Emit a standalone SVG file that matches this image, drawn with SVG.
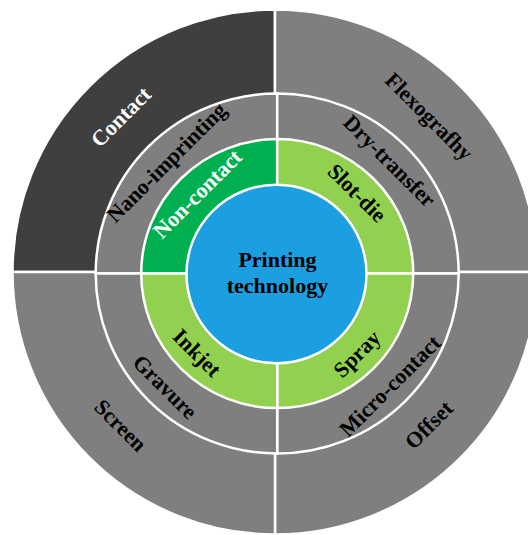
<svg xmlns="http://www.w3.org/2000/svg" width="528" height="535" viewBox="0 0 528 535">
  <style>
    .seg { stroke: #ffffff; stroke-width: 2.5; stroke-linejoin: miter; }
    .dark { fill: #3f3f3f; }
    .grey { fill: #7f7f7f; }
    .dgreen { fill: #00b050; }
    .lgreen { fill: #92d050; }
    .core { fill: #1b9fe0; }
    text { font-family: "Liberation Serif", "Times New Roman", serif; font-weight: bold; font-size: 22px; text-anchor: middle; fill: #000000; }
    .light { fill: #ffffff; }
  </style>

  <!-- outer ring: four quadrants around (275,272) -->
  <g id="outer-ring">
    <g id="contact">
      <path class="seg dark" d="M275,272 L12.5,272 A262.5,262.5 0 0 1 275,9.5 Z"/>
      <text class="light" transform="translate(121,117) rotate(-45)" dy=".33em">Contact</text>
    </g>
    <g id="flexografhy">
      <path class="seg grey" d="M275,272 L275,9.5 A262.5,262.5 0 0 1 537.5,272 Z"/>
      <text transform="translate(429,116.5) rotate(45)" dy=".33em">Flexografhy</text>
    </g>
    <g id="offset">
      <path class="seg grey" d="M275,272 L537.5,272 A262.5,262.5 0 0 1 275,534.5 Z"/>
      <text transform="translate(429,425) rotate(-45)" dy=".33em">Offset</text>
    </g>
    <g id="screen">
      <path class="seg grey" d="M275,272 L275,534.5 A262.5,262.5 0 0 1 12.5,272 Z"/>
      <text transform="translate(120.5,425.5) rotate(45)" dy=".33em">Screen</text>
    </g>
  </g>

  <!-- middle ring: four quadrants around (277.2,273.5) -->
  <g id="middle-ring">
    <g id="nano-imprinting">
      <path class="seg grey" d="M277.2,273.5 L95.7,273.5 A181.5,180 0 0 1 277.2,93.5 Z"/>
      <text transform="translate(166.5,162.5) rotate(-45)" dy=".33em">Nano-imprinting</text>
    </g>
    <g id="dry-transfer">
      <path class="seg grey" d="M277.2,273.5 L277.2,93.5 A181.5,180 0 0 1 458.7,273.5 Z"/>
      <text transform="translate(389.5,161) rotate(45)" dy=".33em">Dry-transfer</text>
    </g>
    <g id="micro-contact">
      <path class="seg grey" d="M277.2,273.5 L458.7,273.5 A181.5,180 0 0 1 277.2,453.5 Z"/>
      <text transform="translate(390,386) rotate(-45)" dy=".33em">Micro-contact</text>
    </g>
    <g id="gravure">
      <path class="seg grey" d="M277.2,273.5 L277.2,453.5 A181.5,180 0 0 1 95.7,273.5 Z"/>
      <text transform="translate(165,387) rotate(45)" dy=".33em">Gravure</text>
    </g>
  </g>

  <!-- inner ring: four quadrants around (277.2,273.6) -->
  <g id="inner-ring">
    <g id="non-contact">
      <path class="seg dgreen" d="M277.2,273.6 L141.2,273.6 A136,134.5 0 0 1 277.2,139.1 Z"/>
      <text class="light" transform="translate(197.5,194) rotate(-45)" dy=".33em">Non-contact</text>
    </g>
    <g id="slot-die">
      <path class="seg lgreen" d="M277.2,273.6 L277.2,139.1 A136,134.5 0 0 1 413.2,273.6 Z"/>
      <text transform="translate(357,193) rotate(45)" dy=".33em">Slot-die</text>
    </g>
    <g id="spray">
      <path class="seg lgreen" d="M277.2,273.6 L413.2,273.6 A136,134.5 0 0 1 277.2,408.1 Z"/>
      <text transform="translate(357,354) rotate(-45)" dy=".33em">Spray</text>
    </g>
    <g id="inkjet">
      <path class="seg lgreen" d="M277.2,273.6 L277.2,408.1 A136,134.5 0 0 1 141.2,273.6 Z"/>
      <text transform="translate(197,353) rotate(45)" dy=".33em">Inkjet</text>
    </g>
  </g>

  <!-- centre disc -->
  <g id="printing-technology">
    <ellipse class="seg core" cx="276.5" cy="274" rx="90" ry="89.3"/>
    <text x="277.5" y="267" style="font-size:22px">Printing</text>
    <text x="277.5" y="293" style="font-size:22px">technology</text>
  </g>
</svg>
